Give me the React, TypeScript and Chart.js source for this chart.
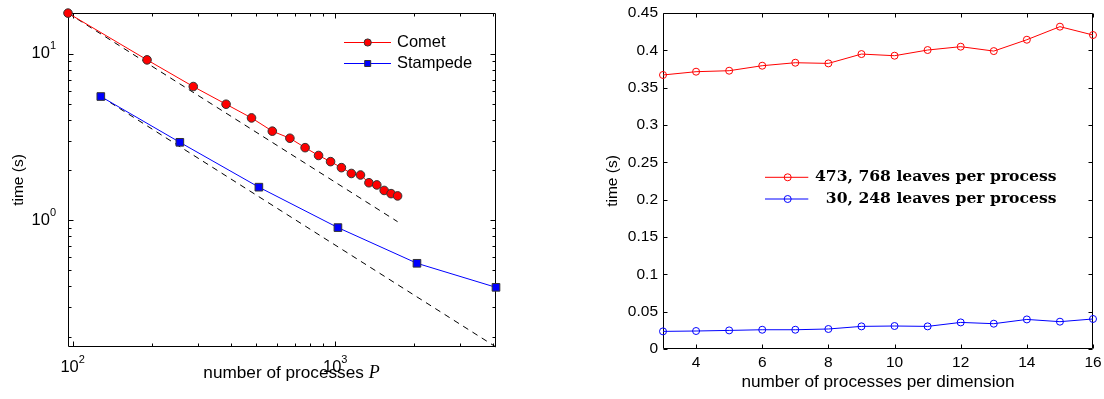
import React, { useEffect, useRef } from "react";
import { Chart, registerables } from "chart.js";

Chart.register(...registerables);

// ---------- Left chart data (log-log strong scaling) ----------
const cometProcs = [96, 192, 288, 384, 480, 576, 672, 768, 864, 960, 1056, 1152, 1248, 1344, 1440, 1536, 1632, 1728];
const cometTime = [17.57, 9.2, 6.36, 4.98, 4.12, 3.43, 3.11, 2.73, 2.45, 2.25, 2.07, 1.91, 1.87, 1.68, 1.63, 1.51, 1.445, 1.4];
const stampedeProcs = [128, 256, 512, 1024, 2048, 4096];
const stampedeTime = [5.54, 2.94, 1.58, 0.903, 0.551, 0.395];
const cometIdealProcs = [96, 1728];
const cometIdealTime = [17.57, 0.98];
const stampedeIdealProcs = [128, 4096];
const stampedeIdealTime = [5.54, 0.173];

const leftXMajor = [100, 1000];
const leftXMajorExp = ["2", "3"];
const leftXMinor = [200, 300, 400, 500, 600, 700, 800, 900, 2000, 3000, 4000];
const leftYMajor = [1, 10];
const leftYMajorExp = ["0", "1"];
const leftYMinor = [0.2, 0.3, 0.4, 0.5, 0.6, 0.7, 0.8, 0.9, 2, 3, 4, 5, 6, 7, 8, 9];
const leftLegend = ["Comet", "Stampede"];

// ---------- Right chart data (weak scaling) ----------
const dims = [3, 4, 5, 6, 7, 8, 9, 10, 11, 12, 13, 14, 15, 16];
const bigLeaves = [0.367, 0.3714, 0.3727, 0.3794, 0.3834, 0.3825, 0.395, 0.3928, 0.4004, 0.4049, 0.399, 0.4142, 0.4317, 0.4205];
const smallLeaves = [0.0236, 0.0241, 0.0249, 0.0258, 0.0258, 0.0268, 0.0303, 0.0308, 0.0303, 0.0356, 0.0339, 0.0396, 0.0366, 0.0402];
const rightXTicks = [4, 6, 8, 10, 12, 14, 16];
const rightYTicks = [0, 0.05, 0.1, 0.15, 0.2, 0.25, 0.3, 0.35, 0.4, 0.45];
const rightLegend = ["473, 768 leaves per process", "30, 248 leaves per process"];

const SANS = '"Liberation Sans", Arial, Helvetica, sans-serif';
const SERIF = '"DejaVu Serif", "Liberation Serif", serif';
const RED = "#ff0000";
const BLUE = "#0000ff";

function zeroPad(s: any) {
  s.paddingLeft = 0;
  s.paddingRight = 0;
  s.paddingTop = 0;
  s.paddingBottom = 0;
}

const h = (v: number) => Math.round(v) + 0.5;

function drawBoxAndTicks(chart: any, xMaj: number[], xMin: number[], yMaj: number[], yMin: number[], maj: number, min: number) {
  const { ctx, chartArea: a } = chart;
  const xs = chart.scales.x;
  const ys = chart.scales.y;
  ctx.save();
  ctx.strokeStyle = "#000";
  ctx.lineWidth = 1;
  const L = h(a.left), R = h(a.right) - 1, T = h(a.top), B = h(a.bottom) - 1;
  ctx.beginPath();
  ctx.rect(L, T, R - L, B - T);
  const xt = (vals: number[], len: number) => {
    vals.forEach((v) => {
      const p = h(xs.getPixelForValue(v));
      ctx.moveTo(p, B);
      ctx.lineTo(p, B - len);
      ctx.moveTo(p, T);
      ctx.lineTo(p, T + len);
    });
  };
  const yt = (vals: number[], len: number) => {
    vals.forEach((v) => {
      const p = h(ys.getPixelForValue(v));
      ctx.moveTo(L, p);
      ctx.lineTo(L + len, p);
      ctx.moveTo(R, p);
      ctx.lineTo(R - len, p);
    });
  };
  xt(xMaj, maj);
  xt(xMin, min);
  yt(yMaj, maj);
  yt(yMin, min);
  ctx.stroke();
  ctx.restore();
}

const leftPlugin = {
  id: "leftDecor",
  beforeDatasetsDraw(chart: any) {
    drawBoxAndTicks(chart, leftXMajor, leftXMinor, leftYMajor, leftYMinor, 5, 3);
  },
  afterDraw(chart: any) {
    const { ctx } = chart;
    const xs = chart.scales.x;
    const ys = chart.scales.y;
    const baseFont = `16.5px ${SANS}`;
    const supFont = `11px ${SANS}`;
    ctx.save();
    ctx.fillStyle = "#000";
    ctx.textBaseline = "middle";
    // y tick labels
    leftYMajor.forEach((v, i) => {
      const py = ys.getPixelForValue(v);
      ctx.font = supFont;
      const ws = ctx.measureText(leftYMajorExp[i]).width;
      ctx.textAlign = "right";
      ctx.fillText(leftYMajorExp[i], 56, py - 7.5);
      ctx.font = baseFont;
      ctx.fillText("10", 56 - ws, py);
    });
    // x tick labels
    leftXMajor.forEach((v, i) => {
      const px = xs.getPixelForValue(v);
      ctx.font = baseFont;
      const wb = ctx.measureText("10").width;
      ctx.font = supFont;
      const ws = ctx.measureText(leftXMajorExp[i]).width;
      const start = px - (wb + ws) / 2;
      ctx.textAlign = "left";
      ctx.font = baseFont;
      ctx.fillText("10", start, 367);
      ctx.font = supFont;
      ctx.fillText(leftXMajorExp[i], start + wb, 359.5);
    });
    // x title: "number of processes P"
    ctx.textBaseline = "alphabetic";
    ctx.textAlign = "left";
    const t1 = "number of processes ";
    const titleFont = `17.2px ${SANS}`;
    const pFont = `italic 18px "Liberation Serif", "DejaVu Serif", serif`;
    ctx.font = titleFont;
    const w1 = ctx.measureText(t1).width;
    ctx.font = pFont;
    const w2 = ctx.measureText("P").width;
    const sx = 291.5 - (w1 + w2) / 2;
    ctx.font = titleFont;
    ctx.fillText(t1, sx, 377.7);
    ctx.font = pFont;
    ctx.fillText("P", sx + w1, 377.7);

    // legend
    const rows = [42.5, 63.5];
    const colors = [RED, BLUE];
    rows.forEach((y, i) => {
      ctx.strokeStyle = colors[i];
      ctx.lineWidth = 1;
      ctx.beginPath();
      ctx.moveTo(344, y);
      ctx.lineTo(391, y);
      ctx.stroke();
      ctx.fillStyle = colors[i];
      ctx.strokeStyle = "#333";
      ctx.beginPath();
      if (i === 0) {
        ctx.arc(367.7, y, 3.6, 0, Math.PI * 2);
      } else {
        ctx.rect(367.7 - 3, y - 3, 6, 6);
      }
      ctx.fill();
      ctx.stroke();
      ctx.fillStyle = "#000";
      ctx.font = `16.5px ${SANS}`;
      ctx.textBaseline = "middle";
      ctx.textAlign = "left";
      ctx.fillText(leftLegend[i], 397, y);
    });
    ctx.restore();
  },
};

const rightPlugin = {
  id: "rightDecor",
  beforeDatasetsDraw(chart: any) {
    drawBoxAndTicks(chart, rightXTicks, [], rightYTicks, [], 4, 0);
  },
  afterDraw(chart: any) {
    const { ctx } = chart;
    ctx.save();
    const rows = [177.3, 199];
    const colors = [RED, BLUE];
    const legFont = `bold 15.6px ${SERIF}`;
    ctx.font = legFont;
    const w0 = ctx.measureText(rightLegend[0]).width;
    const textRight = 255 + w0;
    rows.forEach((y, i) => {
      ctx.strokeStyle = colors[i];
      ctx.lineWidth = 1;
      ctx.beginPath();
      ctx.moveTo(205, y);
      ctx.lineTo(248.3, y);
      ctx.stroke();
      ctx.beginPath();
      ctx.arc(227.7, y, 3.5, 0, Math.PI * 2);
      ctx.stroke();
      ctx.fillStyle = "#000";
      ctx.font = legFont;
      ctx.textBaseline = "middle";
      ctx.textAlign = "right";
      ctx.fillText(rightLegend[i], textRight, y);
    });
    ctx.restore();
  },
};

function leftConfig(): any {
  return {
    type: "line",
    data: {
      datasets: [
        {
          label: leftLegend[0],
          data: cometProcs.map((x, i) => ({ x, y: cometTime[i] })),
          borderColor: RED,
          borderWidth: 1,
          pointStyle: "circle",
          pointRadius: 4.3,
          pointBackgroundColor: RED,
          pointBorderColor: "#333",
          pointBorderWidth: 1,
          tension: 0,
          clip: false,
        },
        {
          label: leftLegend[1],
          data: stampedeProcs.map((x, i) => ({ x, y: stampedeTime[i] })),
          borderColor: BLUE,
          borderWidth: 1,
          pointStyle: "rect",
          pointRadius: 5.4,
          pointBackgroundColor: BLUE,
          pointBorderColor: "#333",
          pointBorderWidth: 1,
          tension: 0,
          clip: false,
        },
        {
          label: "Comet ideal",
          data: cometIdealProcs.map((x, i) => ({ x, y: cometIdealTime[i] })),
          borderColor: "#000",
          borderWidth: 1,
          borderDash: [6, 5],
          pointRadius: 0,
          clip: false,
        },
        {
          label: "Stampede ideal",
          data: stampedeIdealProcs.map((x, i) => ({ x, y: stampedeIdealTime[i] })),
          borderColor: "#000",
          borderWidth: 1,
          borderDash: [6, 5],
          pointRadius: 0,
          clip: false,
        },
      ],
    },
    options: {
      responsive: false,
      animation: false,
      events: [],
      layout: { padding: { left: 0, top: 13, right: 44, bottom: 0 } },
      plugins: { legend: { display: false }, tooltip: { enabled: false } },
      scales: {
        x: {
          type: "logarithmic",
          position: "bottom",
          min: 96,
          max: 4096,
          bounds: "data",
          grid: { display: false, drawTicks: false },
          border: { display: false },
          ticks: { display: false },
          afterFit: (s: any) => {
            s.height = 52;
            zeroPad(s);
          },
        },
        y: {
          type: "logarithmic",
          position: "left",
          min: 0.173,
          max: 17.6,
          bounds: "data",
          grid: { display: false, drawTicks: false },
          border: { display: false },
          ticks: { display: false },
          title: {
            display: true,
            text: "time (s)",
            color: "#000",
            font: { family: SANS, size: 15.5 },
            padding: { top: 9, bottom: 0 },
          },
          afterFit: (s: any) => {
            s.width = 68;
            zeroPad(s);
          },
        },
      },
    },
    plugins: [leftPlugin],
  };
}

function rightConfig(): any {
  return {
    type: "line",
    data: {
      datasets: [
        {
          label: rightLegend[0],
          data: dims.map((x, i) => ({ x, y: bigLeaves[i] })),
          borderColor: RED,
          borderWidth: 1,
          pointRadius: 3.5,
          pointBackgroundColor: "rgba(0,0,0,0)",
          pointBorderColor: RED,
          pointBorderWidth: 1,
          tension: 0,
          clip: false,
        },
        {
          label: rightLegend[1],
          data: dims.map((x, i) => ({ x, y: smallLeaves[i] })),
          borderColor: BLUE,
          borderWidth: 1,
          pointRadius: 3.5,
          pointBackgroundColor: "rgba(0,0,0,0)",
          pointBorderColor: BLUE,
          pointBorderWidth: 1,
          tension: 0,
          clip: false,
        },
      ],
    },
    options: {
      responsive: false,
      animation: false,
      events: [],
      layout: { padding: { left: 0, top: 13, right: 11, bottom: 0 } },
      plugins: { legend: { display: false }, tooltip: { enabled: false } },
      scales: {
        x: {
          type: "linear",
          position: "bottom",
          min: 3,
          max: 16,
          bounds: "data",
          grid: { display: false, drawTicks: false },
          border: { display: false },
          afterBuildTicks: (s: any) => {
            s.ticks = rightXTicks.map((v) => ({ value: v }));
          },
          ticks: {
            autoSkip: false,
            maxRotation: 0,
            padding: 4,
            color: "#000",
            font: { family: SANS, size: 15.5 },
            callback: (v: any) => String(v),
          },
          title: {
            display: true,
            text: "number of processes per dimension",
            color: "#000",
            font: { family: SANS, size: 17.2 },
            padding: { top: 0, bottom: 6 },
          },
          afterFit: (s: any) => {
            s.height = 50;
            zeroPad(s);
          },
        },
        y: {
          type: "linear",
          position: "left",
          min: 0,
          max: 0.45,
          bounds: "data",
          grid: { display: false, drawTicks: false },
          border: { display: false },
          afterBuildTicks: (s: any) => {
            s.ticks = rightYTicks.map((v) => ({ value: v }));
          },
          ticks: {
            autoSkip: false,
            padding: 5,
            color: "#000",
            font: { family: SANS, size: 15.5 },
            callback: (v: any) => String(Math.round(Number(v) * 100) / 100),
          },
          title: {
            display: true,
            text: "time (s)",
            color: "#000",
            font: { family: SANS, size: 15.5 },
            padding: { top: 43, bottom: 0 },
          },
          afterFit: (s: any) => {
            s.width = 103;
            zeroPad(s);
          },
        },
      },
    },
    plugins: [rightPlugin],
  };
}

export default function App() {
  const leftRef = useRef<HTMLCanvasElement>(null);
  const rightRef = useRef<HTMLCanvasElement>(null);
  useEffect(() => {
    const left = new Chart(leftRef.current as HTMLCanvasElement, leftConfig());
    const right = new Chart(rightRef.current as HTMLCanvasElement, rightConfig());
    return () => {
      left.destroy();
      right.destroy();
    };
  }, []);
  return (
    <div
      style={{
        position: "absolute",
        left: 0,
        top: 0,
        width: 1104,
        height: 399,
        background: "#fff",
        overflow: "hidden",
      }}
    >
      <canvas
        ref={leftRef}
        width={540}
        height={399}
        style={{ position: "absolute", left: 0, top: 0, width: 540, height: 399 }}
      />
      <canvas
        ref={rightRef}
        width={544}
        height={399}
        style={{ position: "absolute", left: 560, top: 0, width: 544, height: 399 }}
      />
    </div>
  );
}
